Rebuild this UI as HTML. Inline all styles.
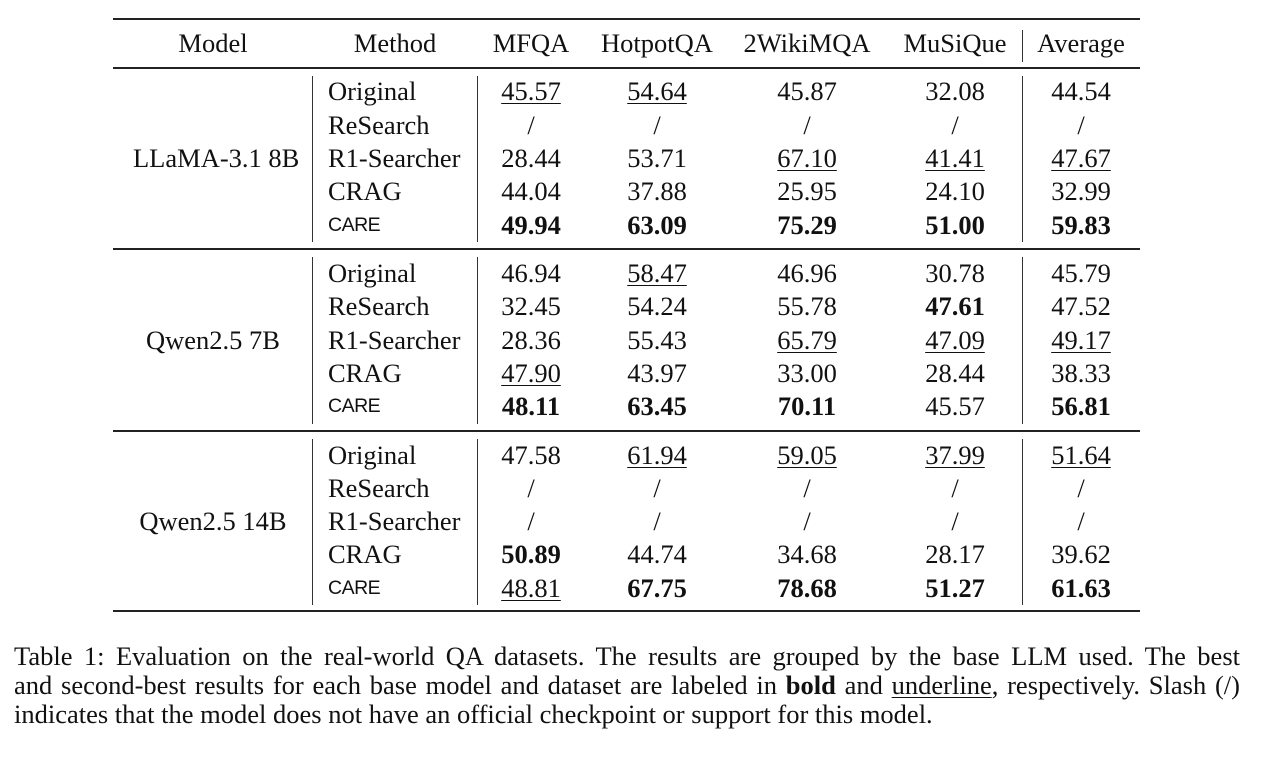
<!DOCTYPE html>
<html><head><meta charset="utf-8">
<style>
body{margin:0;width:1267px;height:757px;background:#fff;position:relative;overflow:hidden;font-family:"Liberation Serif",serif;color:#111}
.c{position:absolute;width:160px;text-align:center;font-size:26.5px;line-height:28px;white-space:nowrap}
.l{position:absolute;font-size:26.5px;line-height:28px;white-space:nowrap}
.s{font-family:"Liberation Sans",sans-serif;font-size:19.5px;letter-spacing:-0.5px}
.b{font-weight:bold}
.u{text-decoration:underline;text-decoration-thickness:1px;text-underline-offset:3px}
.h{position:absolute;left:113px;width:1027px;background:#222}
.v{position:absolute;width:1.3px;background:#333}
.cap{position:absolute;left:14px;width:1226px;font-size:26.5px;line-height:29px;white-space:nowrap}
.j{text-align:justify;text-align-last:justify}
</style></head><body>
<div class="h" style="top:18px;height:2px"></div>
<div class="h" style="top:67px;height:1.5px"></div>
<div class="h" style="top:248px;height:1.5px"></div>
<div class="h" style="top:430px;height:1.5px"></div>
<div class="h" style="top:610px;height:2px"></div>
<div class="v" style="left:1022px;top:30px;height:32px"></div>
<div class="v" style="left:312px;top:76px;height:166px"></div>
<div class="v" style="left:477px;top:76px;height:166px"></div>
<div class="v" style="left:1022px;top:76px;height:166px"></div>
<div class="v" style="left:312px;top:257px;height:167px"></div>
<div class="v" style="left:477px;top:257px;height:167px"></div>
<div class="v" style="left:1022px;top:257px;height:167px"></div>
<div class="v" style="left:312px;top:439px;height:166px"></div>
<div class="v" style="left:477px;top:439px;height:166px"></div>
<div class="v" style="left:1022px;top:439px;height:166px"></div>

<div class="c" style="left:133px;top:29px">Model</div>
<div class="c" style="left:315px;top:29px">Method</div>
<div class="c" style="left:451px;top:29px">MFQA</div>
<div class="c" style="left:577px;top:29px">HotpotQA</div>
<div class="c" style="left:727px;top:29px">2WikiMQA</div>
<div class="c" style="left:875px;top:29px">MuSiQue</div>
<div class="c" style="left:1001px;top:29px">Average</div>

<div class="c" style="left:133px;top:144px">LLaMA-3.1 8B</div>
<div class="c" style="left:133px;top:326px">Qwen2.5 7B</div>
<div class="c" style="left:133px;top:507px">Qwen2.5 14B</div>

<!-- group 1 -->
<div class="l" style="left:328px;top:77px">Original</div>
<div class="l" style="left:328px;top:111px">ReSearch</div>
<div class="l" style="left:328px;top:144px">R1-Searcher</div>
<div class="l" style="left:328px;top:177px">CRAG</div>
<div class="l s" style="left:328px;top:211px">CARE</div>
<div class="c" style="left:451px;top:77px"><span class="u">45.57</span></div>
<div class="c" style="left:577px;top:77px"><span class="u">54.64</span></div>
<div class="c" style="left:727px;top:77px">45.87</div>
<div class="c" style="left:875px;top:77px">32.08</div>
<div class="c" style="left:1001px;top:77px">44.54</div>
<div class="c" style="left:451px;top:111px">/</div>
<div class="c" style="left:577px;top:111px">/</div>
<div class="c" style="left:727px;top:111px">/</div>
<div class="c" style="left:875px;top:111px">/</div>
<div class="c" style="left:1001px;top:111px">/</div>
<div class="c" style="left:451px;top:144px">28.44</div>
<div class="c" style="left:577px;top:144px">53.71</div>
<div class="c" style="left:727px;top:144px"><span class="u">67.10</span></div>
<div class="c" style="left:875px;top:144px"><span class="u">41.41</span></div>
<div class="c" style="left:1001px;top:144px"><span class="u">47.67</span></div>
<div class="c" style="left:451px;top:177px">44.04</div>
<div class="c" style="left:577px;top:177px">37.88</div>
<div class="c" style="left:727px;top:177px">25.95</div>
<div class="c" style="left:875px;top:177px">24.10</div>
<div class="c" style="left:1001px;top:177px">32.99</div>
<div class="c b" style="left:451px;top:211px">49.94</div>
<div class="c b" style="left:577px;top:211px">63.09</div>
<div class="c b" style="left:727px;top:211px">75.29</div>
<div class="c b" style="left:875px;top:211px">51.00</div>
<div class="c b" style="left:1001px;top:211px">59.83</div>

<!-- group 2 -->
<div class="l" style="left:328px;top:259px">Original</div>
<div class="l" style="left:328px;top:292px">ReSearch</div>
<div class="l" style="left:328px;top:326px">R1-Searcher</div>
<div class="l" style="left:328px;top:359px">CRAG</div>
<div class="l s" style="left:328px;top:392px">CARE</div>
<div class="c" style="left:451px;top:259px">46.94</div>
<div class="c" style="left:577px;top:259px"><span class="u">58.47</span></div>
<div class="c" style="left:727px;top:259px">46.96</div>
<div class="c" style="left:875px;top:259px">30.78</div>
<div class="c" style="left:1001px;top:259px">45.79</div>
<div class="c" style="left:451px;top:292px">32.45</div>
<div class="c" style="left:577px;top:292px">54.24</div>
<div class="c" style="left:727px;top:292px">55.78</div>
<div class="c b" style="left:875px;top:292px">47.61</div>
<div class="c" style="left:1001px;top:292px">47.52</div>
<div class="c" style="left:451px;top:326px">28.36</div>
<div class="c" style="left:577px;top:326px">55.43</div>
<div class="c" style="left:727px;top:326px"><span class="u">65.79</span></div>
<div class="c" style="left:875px;top:326px"><span class="u">47.09</span></div>
<div class="c" style="left:1001px;top:326px"><span class="u">49.17</span></div>
<div class="c" style="left:451px;top:359px"><span class="u">47.90</span></div>
<div class="c" style="left:577px;top:359px">43.97</div>
<div class="c" style="left:727px;top:359px">33.00</div>
<div class="c" style="left:875px;top:359px">28.44</div>
<div class="c" style="left:1001px;top:359px">38.33</div>
<div class="c b" style="left:451px;top:392px">48.11</div>
<div class="c b" style="left:577px;top:392px">63.45</div>
<div class="c b" style="left:727px;top:392px">70.11</div>
<div class="c" style="left:875px;top:392px">45.57</div>
<div class="c b" style="left:1001px;top:392px">56.81</div>

<!-- group 3 -->
<div class="l" style="left:328px;top:441px">Original</div>
<div class="l" style="left:328px;top:474px">ReSearch</div>
<div class="l" style="left:328px;top:507px">R1-Searcher</div>
<div class="l" style="left:328px;top:540px">CRAG</div>
<div class="l s" style="left:328px;top:574px">CARE</div>
<div class="c" style="left:451px;top:441px">47.58</div>
<div class="c" style="left:577px;top:441px"><span class="u">61.94</span></div>
<div class="c" style="left:727px;top:441px"><span class="u">59.05</span></div>
<div class="c" style="left:875px;top:441px"><span class="u">37.99</span></div>
<div class="c" style="left:1001px;top:441px"><span class="u">51.64</span></div>
<div class="c" style="left:451px;top:474px">/</div>
<div class="c" style="left:577px;top:474px">/</div>
<div class="c" style="left:727px;top:474px">/</div>
<div class="c" style="left:875px;top:474px">/</div>
<div class="c" style="left:1001px;top:474px">/</div>
<div class="c" style="left:451px;top:507px">/</div>
<div class="c" style="left:577px;top:507px">/</div>
<div class="c" style="left:727px;top:507px">/</div>
<div class="c" style="left:875px;top:507px">/</div>
<div class="c" style="left:1001px;top:507px">/</div>
<div class="c b" style="left:451px;top:540px">50.89</div>
<div class="c" style="left:577px;top:540px">44.74</div>
<div class="c" style="left:727px;top:540px">34.68</div>
<div class="c" style="left:875px;top:540px">28.17</div>
<div class="c" style="left:1001px;top:540px">39.62</div>
<div class="c" style="left:451px;top:574px"><span class="u">48.81</span></div>
<div class="c b" style="left:577px;top:574px">67.75</div>
<div class="c b" style="left:727px;top:574px">78.68</div>
<div class="c b" style="left:875px;top:574px">51.27</div>
<div class="c b" style="left:1001px;top:574px">61.63</div>

<div class="cap j" style="top:642px">Table 1: Evaluation on the real-world QA datasets. The results are grouped by the base LLM used. The best</div>
<div class="cap j" style="top:671px">and second-best results for each base model and dataset are labeled in <b>bold</b> and <span class="u">underline</span>, respectively. Slash (/)</div>
<div class="cap" style="top:700px">indicates that the model does not have an official checkpoint or support for this model.</div>
</body></html>
